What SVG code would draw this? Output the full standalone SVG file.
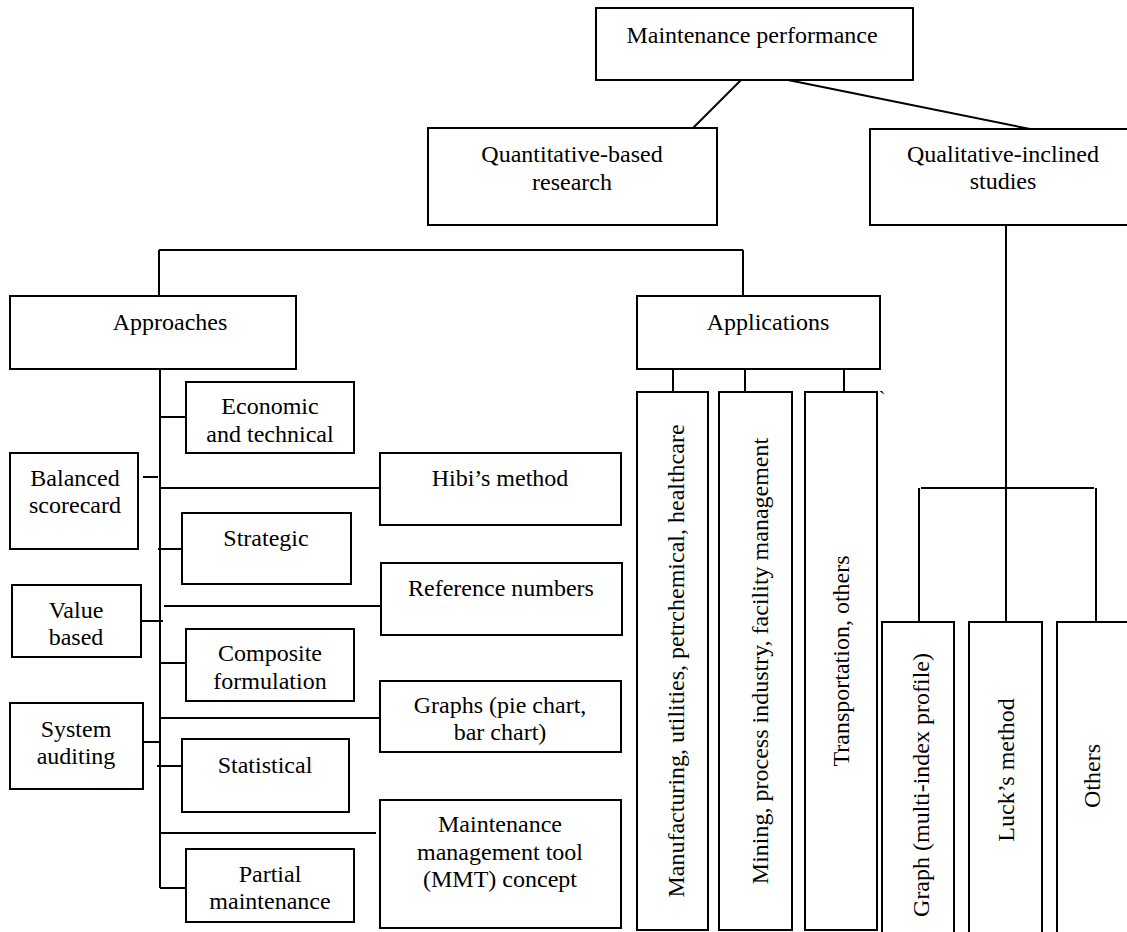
<svg xmlns="http://www.w3.org/2000/svg" width="1127" height="932" viewBox="0 0 1127 932">
<style>
.b{fill:#fff;stroke:#000;stroke-width:2}
.c line{stroke:#000;stroke-width:2}
text{font-family:"Liberation Serif","Times New Roman",serif;font-size:24px;fill:#000;text-anchor:middle}
</style>
<rect width="1127" height="932" fill="#fff"/>
<g id="connectors" class="c">
<line x1="741" y1="80" x2="693" y2="128"/>
<line x1="788" y1="80" x2="1030" y2="129"/>
<line x1="159" y1="250" x2="743" y2="250"/>
<line x1="159" y1="250" x2="159" y2="296"/>
<line x1="743" y1="250" x2="743" y2="296"/>
<line x1="160" y1="369" x2="160" y2="888"/>
<line x1="160" y1="417" x2="186" y2="417"/>
<line x1="143" y1="477" x2="158" y2="477"/>
<line x1="160" y1="488" x2="380" y2="488"/>
<line x1="158" y1="549" x2="182" y2="549"/>
<line x1="164" y1="606" x2="381" y2="606"/>
<line x1="138" y1="621" x2="163" y2="621"/>
<line x1="160" y1="663" x2="186" y2="663"/>
<line x1="160" y1="718" x2="380" y2="718"/>
<line x1="143" y1="742" x2="160" y2="742"/>
<line x1="157" y1="766" x2="182" y2="766"/>
<line x1="160" y1="833" x2="376" y2="833"/>
<line x1="160" y1="888" x2="186" y2="888"/>
<line x1="673" y1="369" x2="673" y2="392"/>
<line x1="745" y1="369" x2="745" y2="392"/>
<line x1="844" y1="369" x2="844" y2="392"/>
<line x1="1006" y1="225" x2="1006" y2="622"/>
<line x1="921" y1="488" x2="1094" y2="488"/>
<line x1="919" y1="488" x2="919" y2="622"/>
<line x1="1096" y1="488" x2="1096" y2="622"/>
</g>
<g id="maintenance-performance"><rect class="b" x="596" y="8" width="317" height="72"/><text x="752" y="43">Maintenance performance</text></g>
<g id="quantitative"><rect class="b" x="428" y="128" width="289" height="97"/><text x="572" y="162">Quantitative-based</text><text x="572" y="190">research</text></g>
<g id="qualitative"><rect class="b" x="870" y="129" width="266" height="96"/><text x="1003" y="162">Qualitative-inclined</text><text x="1003" y="189">studies</text></g>
<g id="approaches"><rect class="b" x="10" y="296" width="286" height="73"/><text x="170" y="330">Approaches</text></g>
<g id="applications"><rect class="b" x="637" y="296" width="243" height="73"/><text x="768" y="330">Applications</text></g>
<g id="economic"><rect class="b" x="186" y="382" width="168" height="71"/><text x="270" y="414">Economic</text><text x="270" y="442">and technical</text></g>
<g id="balanced"><rect class="b" x="10" y="453" width="128" height="96"/><text x="75" y="486">Balanced</text><text x="75" y="513">scorecard</text></g>
<g id="hibi"><rect class="b" x="380" y="453" width="241" height="72"/><text x="500" y="486">Hibi’s method</text></g>
<g id="strategic"><rect class="b" x="182" y="513" width="169" height="71"/><text x="266" y="546">Strategic</text></g>
<g id="reference"><rect class="b" x="381" y="563" width="241" height="72"/><text x="501" y="596">Reference numbers</text></g>
<g id="value"><rect class="b" x="12" y="585" width="129" height="72"/><text x="76" y="618">Value</text><text x="76" y="645">based</text></g>
<g id="composite"><rect class="b" x="186" y="629" width="168" height="72"/><text x="270" y="661">Composite</text><text x="270" y="689">formulation</text></g>
<g id="graphs"><rect class="b" x="380" y="681" width="241" height="71"/><text x="500" y="713">Graphs (pie chart,</text><text x="500" y="740">bar chart)</text></g>
<g id="system"><rect class="b" x="10" y="703" width="133" height="86"/><text x="76" y="737">System</text><text x="76" y="764">auditing</text></g>
<g id="statistical"><rect class="b" x="182" y="739" width="167" height="73"/><text x="265" y="773">Statistical</text></g>
<g id="mmt"><rect class="b" x="380" y="800" width="241" height="128"/><text x="500" y="832">Maintenance</text><text x="500" y="860">management tool</text><text x="500" y="887">(MMT) concept</text></g>
<g id="partial"><rect class="b" x="186" y="849" width="168" height="73"/><text x="270" y="882">Partial</text><text x="270" y="909">maintenance</text></g>
<g id="manufacturing"><rect class="b" x="637" y="392" width="71" height="538"/><text transform="translate(684 661) rotate(-90)">Manufacturing, utilities, petrchemical, healthcare</text></g>
<g id="mining"><rect class="b" x="719" y="392" width="73" height="538"/><text transform="translate(768 661) rotate(-90)">Mining, process industry, facility management</text></g>
<g id="transportation"><rect class="b" x="805" y="392" width="72" height="538"/><text transform="translate(849 661) rotate(-90)">Transportation, others</text></g>
<text x="882" y="406" style="font-size:20px">`</text>
<g id="graph-multi"><rect class="b" x="882" y="622" width="72" height="330"/><text transform="translate(929 785) rotate(-90)">Graph (multi-index profile)</text></g>
<g id="luck"><rect class="b" x="969" y="622" width="73" height="330"/><text transform="translate(1014 770) rotate(-90)">Luck’s method</text></g>
<g id="others"><rect class="b" x="1057" y="622" width="80" height="330"/><text transform="translate(1100 776) rotate(-90)">Others</text></g>
</svg>
